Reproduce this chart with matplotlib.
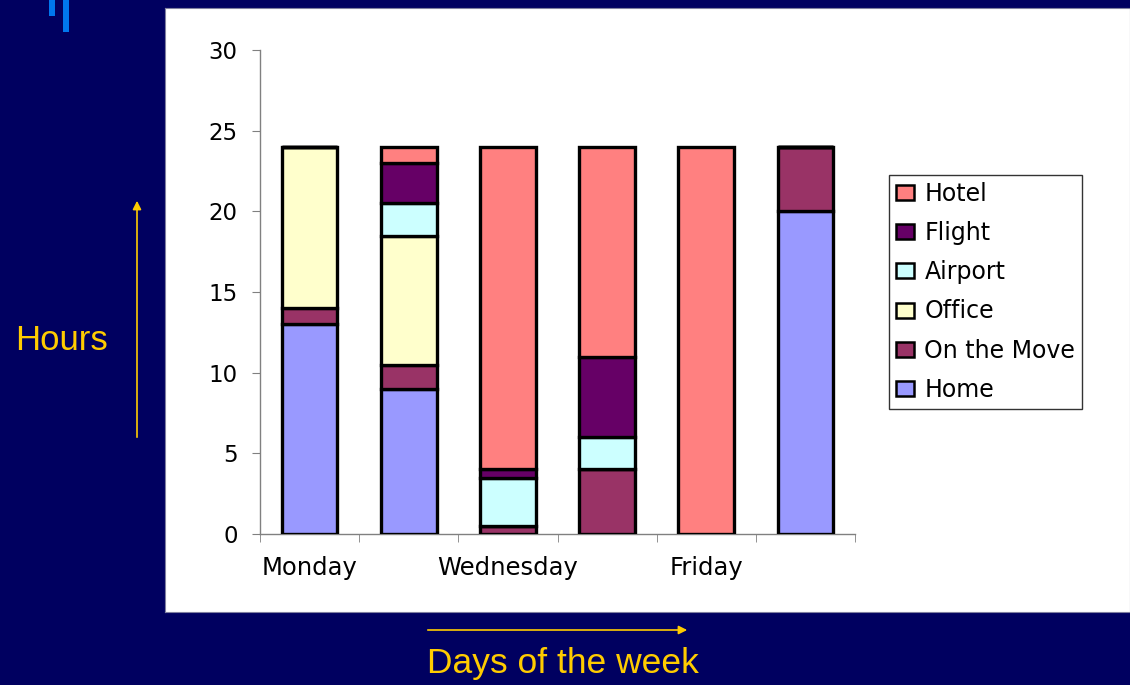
import matplotlib
matplotlib.use("Agg")
import matplotlib.pyplot as plt
from matplotlib.patches import Rectangle, FancyArrowPatch
import numpy as np

days = ["Monday", "Tuesday", "Wednesday", "Thursday", "Friday", "Saturday"]
home = [13, 9, 0, 0, 0, 20]
on_the_move = [1, 1.5, 0.5, 4, 0, 4]
office = [10, 8, 0, 0, 0, 0]
airport = [0, 2, 3, 2, 0, 0]
flight = [0, 2.5, 0.5, 5, 0, 0]
hotel = [0, 1, 20, 13, 24, 0]

series_names = ["Home", "On the Move", "Office", "Airport", "Flight", "Hotel"]
series_vals = [home, on_the_move, office, airport, flight, hotel]
colors = ["#9999FF", "#993366", "#FFFFCC", "#CCFFFF", "#660066", "#FF8080"]

W, H = 1130, 685
fig = plt.figure(figsize=(W / 100, H / 100), dpi=100)
fig.patch.set_facecolor("#000060")
plt.rcParams["font.family"] = ["DejaVu Sans"]

# white panel as background axes
panel = fig.add_axes([165 / W, 1 - 612 / H, (W - 165) / W, (612 - 8) / H], zorder=0)
panel.set_facecolor("white")
panel.set_xticks([]); panel.set_yticks([])
for s in panel.spines.values():
    s.set_color("#8080a0"); s.set_linewidth(0.8)

# blue decoration marks
fig.patches.append(Rectangle((49 / W, 1 - 16 / H), 6 / W, 16 / H,
                             transform=fig.transFigure, facecolor="#0077EE",
                             edgecolor="none"))
fig.patches.append(Rectangle((63 / W, 1 - 32 / H), 6 / W, 32 / H,
                             transform=fig.transFigure, facecolor="#0077EE",
                             edgecolor="none"))

ax = fig.add_axes([260 / W, 1 - 534 / H, (855 - 260) / W, (534 - 50) / H], zorder=2)
ax.set_facecolor("none")
x = np.arange(len(days))
bottom = np.zeros(len(days))
handles = []
for name, vals, c in zip(series_names, series_vals, colors):
    v = np.array(vals, dtype=float)
    b = ax.bar(x, v, bottom=bottom, width=0.56, color=c, edgecolor="black",
               linewidth=2.4, label=name, zorder=3)
    handles.append(b)
    bottom += v

ax.set_xlim(-0.5, len(days) - 0.5)
ax.set_ylim(0, 30)
ax.set_yticks(np.arange(0, 31, 5))
ax.set_yticklabels([str(t) for t in range(0, 31, 5)], fontsize=16.5)
ax.set_xticks(x[::2])
ax.set_xticklabels(days[::2], fontsize=17.5)
ax.tick_params(axis="x", length=0, pad=16)
ax.set_xticks(np.arange(-0.5, len(days), 1), minor=True)
ax.tick_params(axis="x", which="minor", length=6, color="#808080", direction="out")
ax.tick_params(axis="y", length=6, color="#808080", direction="out", pad=10)
for s in ["top", "right"]:
    ax.spines[s].set_visible(False)
for s in ["left", "bottom"]:
    ax.spines[s].set_color("#808080")
    ax.spines[s].set_linewidth(1.0)

leg = fig.legend(handles[::-1], series_names[::-1], loc="upper left",
                 bbox_to_anchor=(889 / W, 1 - 175 / H), fontsize=17,
                 frameon=True, fancybox=False, edgecolor="black",
                 handlelength=0.75, handleheight=0.6, handletextpad=0.45,
                 labelspacing=0.64, borderpad=0.3, borderaxespad=0)
leg.get_frame().set_linewidth(1.0)
leg.set_zorder(5)
for p in leg.get_patches():
    p.set_linewidth(1.8)

gold = "#FFCC00"
fig.text(62 / W, 1 - 340 / H, "Hours", color=gold, fontsize=25,
         ha="center", va="center", family=["Liberation Sans", "DejaVu Sans"])
fig.text(563 / W, 1 - 664 / H, "Days of the week", color=gold, fontsize=25.5,
         ha="center", va="center", family=["Liberation Sans", "DejaVu Sans"])
fig.patches.append(FancyArrowPatch((137 / W, 1 - 440 / H), (137 / W, 1 - 198 / H),
                                   transform=fig.transFigure, arrowstyle="-|>,head_length=5,head_width=2.5",
                                   color=gold, linewidth=1.2, mutation_scale=1))
fig.patches.append(FancyArrowPatch((425 / W, 1 - 630 / H), (690 / W, 1 - 630 / H),
                                   transform=fig.transFigure, arrowstyle="-|>,head_length=5,head_width=2.5",
                                   color=gold, linewidth=1.2, mutation_scale=1))

fig.savefig("out.png", dpi=100, facecolor=fig.get_facecolor())
